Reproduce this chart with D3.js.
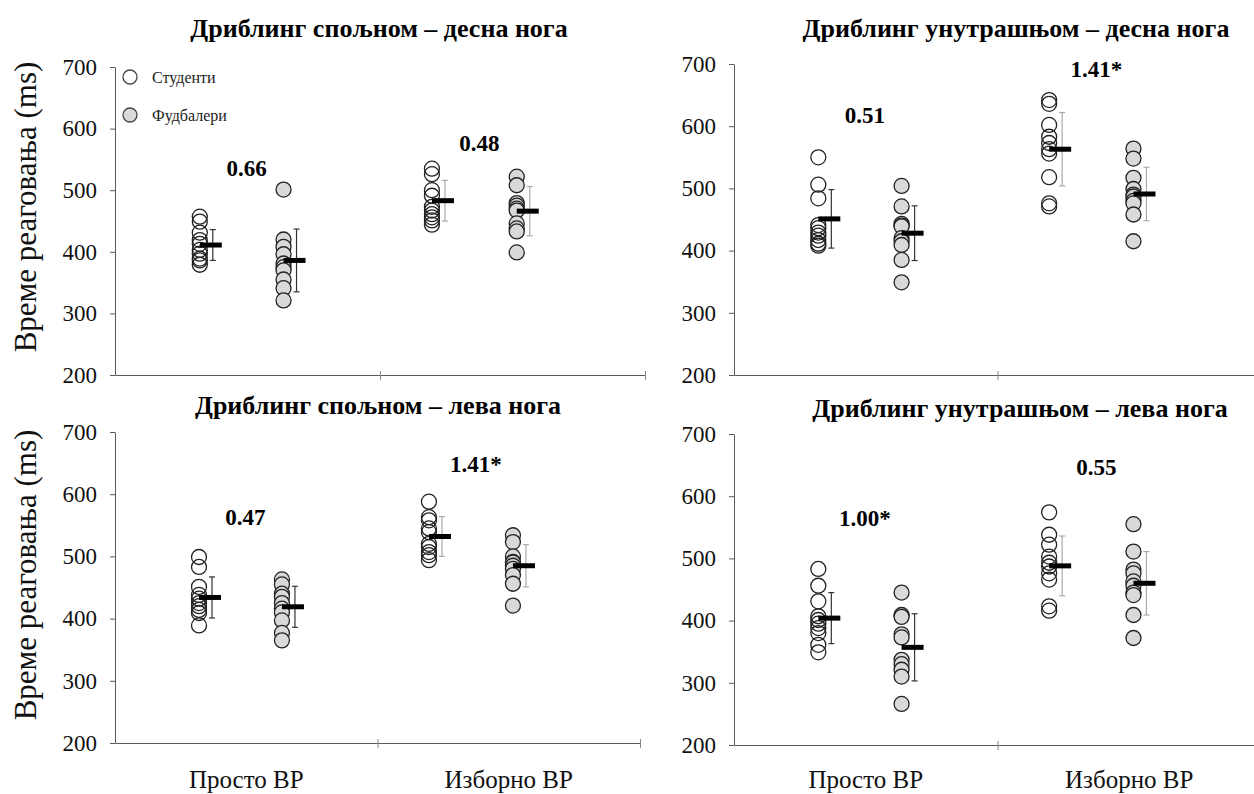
<!DOCTYPE html>
<html>
<head>
<meta charset="utf-8">
<script src="https://cdn.jsdelivr.net/npm/d3@7"></script>
<style>
  body { margin: 0; background: #fff; }
  svg { display: block; font-family: "Liberation Serif", "Times New Roman", serif; }
  svg text { font-family: "Liberation Serif", "Times New Roman", serif; }
</style>
</head>
<body>
<div id="chart"></div>
<script>
var titles = [
  "Дриблинг спољном – десна нога",
  "Дриблинг унутрашњом – десна нога",
  "Дриблинг спољном – лева нога",
  "Дриблинг унутрашњом – лева нога"
];
var categories = ["Просто ВР", "Изборно ВР"];
var groups = ["Студенти", "Фудбалери"];
var yTicks = [200, 300, 400, 500, 600, 700];
var yLabel = "Време реаговања (ms)";

// effect sizes per panel (Просто, Изборно) and the ms level where they sit
var effectSizes = [["0.66", "0.48"], ["0.51", "1.41*"], ["0.47", "1.41*"], ["1.00*", "0.55"]];
var effectLevels = [[536, 577], [618, 692], [564, 648], [565, 647]];

// individual reaction times, per panel: [Просто, Изборно]
var studenti1 = [[457, 449, 431, 419, 413, 403, 397, 389, 386, 379], [535, 526, 500, 491, 473, 467, 461, 456, 451, 444]];
var fudbaleri1 = [[501, 420, 408, 396, 381, 375, 370, 355, 341, 321], [522, 508, 479, 475, 470, 467, 446, 438, 433, 399]];
var studenti2 = [[550, 506, 484, 441, 436, 429, 424, 417, 411, 408], [642, 636, 602, 583, 573, 563, 556, 518, 476, 471]];
var fudbaleri2 = [[504, 471, 443, 440, 439, 420, 415, 409, 385, 349], [564, 548, 517, 499, 490, 487, 480, 476, 458, 415]];
var studenti3 = [[499, 483, 451, 438, 432, 425, 420, 414, 409, 389], [588, 563, 558, 545, 539, 520, 515, 507, 502, 494]];
var fudbaleri3 = [[463, 455, 440, 435, 425, 416, 410, 397, 377, 365], [534, 523, 500, 491, 490, 485, 480, 470, 456, 421]];
var studenti4 = [[483, 456, 431, 407, 401, 395, 388, 380, 361, 349], [574, 538, 522, 503, 493, 487, 476, 466, 423, 416]];
var fudbaleri4 = [[445, 409, 406, 378, 373, 337, 330, 321, 310, 266], [555, 511, 482, 476, 463, 456, 445, 441, 409, 372]];

// means and SD per panel: [студ. просто, фуд. просто, студ. изборно, фуд. изборно]
var means = [[411, 386, 483, 466], [451, 428, 563, 491], [434, 419, 532, 485], [404, 357, 488, 460]];
var sds = [[25, 51, 33, 40], [47, 44, 59, 43], [33, 33, 32, 34], [41, 54, 48, 51]];

var panelData = [
  [studenti1, fudbaleri1], [studenti2, fudbaleri2],
  [studenti3, fudbaleri3], [studenti4, fudbaleri4]
];

var width = 1254, height = 794;

// plot boxes of the four panels
var boxes = [
  {x0: 115, x1: 645, top: 67, bottom: 375, titleX: 379, titleY: 37, labelY: 207},
  {x0: 734, x1: 1261, top: 64, bottom: 375, titleX: 1016, titleY: 37},
  {x0: 115, x1: 640, top: 432, bottom: 743, titleX: 378, titleY: 414, labelY: 575},
  {x0: 734, x1: 1261, top: 434, bottom: 745, titleX: 1020, titleY: 417}
];
// x position (fraction of axis) of each column: студ/фуд for просто, студ/фуд for изборно
var colPos = [0.16, 0.318, 0.598, 0.758];
var axisColor = "#595959";

var svg = d3.select("#chart")
  .append("svg")
    .attr("width", width)
    .attr("height", height);

boxes.forEach(function(b, p) {
  var g = svg.append("g");

  var x = d3.scaleLinear().domain([0, 1]).range([b.x0, b.x1]);
  var y = d3.scaleLinear().domain([200, 700]).range([b.bottom, b.top]);
  var band = d3.scaleBand().domain(categories).range([b.x0, b.x1]);

  // y axis
  var ya = g.append("g")
    .attr("transform", "translate(" + b.x0 + ",0)")
    .call(d3.axisLeft(y).tickValues(yTicks).tickSize(5).tickSizeOuter(0).tickPadding(13))
    .attr("font-family", null)
    .attr("font-size", null);
  ya.select(".domain").attr("stroke", axisColor);
  ya.selectAll(".tick line").attr("stroke", axisColor);
  ya.selectAll(".tick text")
    .style("font-size", "23px")
    .attr("fill", "#111");

  // x axis, ticks crossing the line
  var xa = g.append("g")
    .attr("transform", "translate(0," + b.bottom + ")")
    .call(d3.axisBottom(x).tickValues([0.5, 1]).tickFormat("").tickSizeOuter(0));
  xa.select(".domain").attr("stroke", axisColor);
  xa.selectAll(".tick line").attr("stroke", "#888").attr("y1", -4).attr("y2", 5);

  // category labels only on the bottom row
  if (p >= 2) {
    g.selectAll(".cat")
      .data(categories)
      .enter()
      .append("text")
        .attr("x", function(d) { return band(d) + band.bandwidth() / 2; })
        .attr("y", 788)
        .attr("text-anchor", "middle")
        .style("font-size", "25px")
        .attr("fill", "#111")
        .text(function(d) { return d; });
  }

  // title
  g.append("text")
    .attr("x", b.titleX)
    .attr("y", b.titleY)
    .attr("text-anchor", "middle")
    .style("font-size", "26px")
    .style("font-weight", "bold")
    .text(titles[p]);

  // y label on left column
  if (b.labelY) {
    g.append("text")
      .attr("transform", "translate(36," + b.labelY + ") rotate(-90)")
      .attr("text-anchor", "middle")
      .style("font-size", "31px")
      .attr("fill", "#111")
      .text(yLabel);
  }

  // error bars + dots + mean bars, column by column
  var cols = [
    {vals: panelData[p][0][0], grp: 0, k: 0},
    {vals: panelData[p][1][0], grp: 1, k: 1},
    {vals: panelData[p][0][1], grp: 0, k: 2},
    {vals: panelData[p][1][1], grp: 1, k: 3}
  ];

  cols.forEach(function(c) {
    var cx = x(colPos[c.k]);
    var m = means[p][c.k], s = sds[p][c.k];
    var ec = c.k < 2 ? "#333" : "#aaa";
    var ex = cx + 13;

    var eb = g.append("g").attr("stroke", ec).attr("stroke-width", 1.2);
    eb.append("line").attr("x1", ex).attr("x2", ex).attr("y1", y(m - s)).attr("y2", y(m + s));
    eb.append("line").attr("x1", ex - 3).attr("x2", ex + 3).attr("y1", y(m - s)).attr("y2", y(m - s));
    eb.append("line").attr("x1", ex - 3).attr("x2", ex + 3).attr("y1", y(m + s)).attr("y2", y(m + s));

    g.append("g")
      .selectAll("circle")
      .data(c.vals)
      .enter()
      .append("circle")
        .attr("cx", cx)
        .attr("cy", function(d) { return y(d); })
        .attr("r", 7.5)
        .attr("fill", c.grp === 0 ? "none" : "#d9d9d9")
        .attr("stroke", "#222")
        .attr("stroke-width", 1.3);

    g.append("rect")
      .attr("x", cx)
      .attr("y", y(m) - 2.5)
      .attr("width", 22)
      .attr("height", 5)
      .attr("fill", "#000");
  });

  // effect size labels
  g.selectAll(".es")
    .data(effectSizes[p])
    .enter()
    .append("text")
      .attr("x", function(d, i) { return x((colPos[i * 2] + colPos[i * 2 + 1]) / 2) + 5; })
      .attr("y", function(d, i) { return y(effectLevels[p][i]); })
      .attr("dy", "0.35em")
      .attr("text-anchor", "middle")
      .style("font-size", "23px")
      .style("font-weight", "bold")
      .text(function(d) { return d; });

  // legend in the first panel
  if (p === 0) {
    var lg = g.selectAll(".lg")
      .data(groups)
      .enter()
      .append("g")
        .attr("transform", function(d, i) { return "translate(130," + (77 + i * 38) + ")"; });
    lg.append("circle")
      .attr("r", 7)
      .attr("fill", function(d, i) { return i === 0 ? "none" : "#d9d9d9"; })
      .attr("stroke", "#444")
      .attr("stroke-width", 1.3);
    lg.append("text")
      .attr("x", 22)
      .attr("dy", "0.35em")
      .style("font-size", "16px")
      .attr("fill", "#222")
      .text(function(d) { return d; });
  }
});
</script>
</body>
</html>
